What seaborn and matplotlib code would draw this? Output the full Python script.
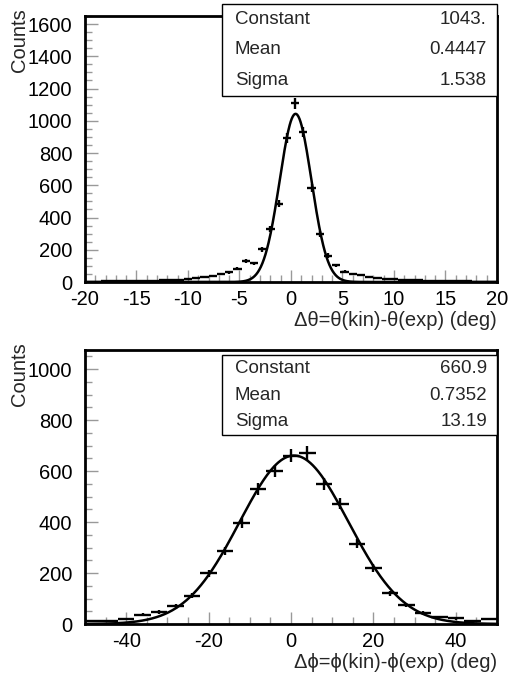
import numpy as np
import pandas as pd
import matplotlib.pyplot as plt
import seaborn as sns
from matplotlib.patches import Rectangle
from matplotlib.ticker import MultipleLocator

# theta histogram: 50 bins from -20 to 20 deg
theta_edges = np.linspace(-20, 20, 51)
theta_counts = [3, 3, 4, 4, 5, 6, 8, 8, 9, 10,
                12, 15, 19, 27, 33, 38, 50, 60, 82, 130,
                116, 203, 328, 486, 895, 1108, 932, 581, 298, 164,
                104, 64, 48, 41, 29, 25, 20, 16, 13, 12,
                10, 9, 7, 6, 5, 5, 4, 3, 3, 2]
theta_fit = {"Constant": 1043., "Mean": 0.4447, "Sigma": 1.538}
theta_fit_txt = ["1043.", "0.4447", "1.538"]

# phi histogram: 25 bins from -50 to 50 deg
phi_edges = np.linspace(-50, 50, 26)
phi_counts = [12, 13, 20, 36, 48, 69, 111, 199, 286, 397,
              531, 600, 660, 671, 550, 472, 315, 219, 120, 74,
              43, 28, 22, 10, 18]
phi_fit = {"Constant": 660.9, "Mean": 0.7352, "Sigma": 13.19}
phi_fit_txt = ["660.9", "0.7352", "13.19"]

sns.set_theme(style="ticks")
plt.rcParams['font.family'] = ['Liberation Sans', 'DejaVu Sans']
plt.rcParams['axes.unicode_minus'] = False

W, H = 510, 676
FS = 14.5
fig = plt.figure(figsize=(W / 100, H / 100), dpi=100)


def panel(rect, edges, counts, fit, fit_txt, ymax, xmajor, xminor, xlabel, box):
    ax = fig.add_axes(rect)
    centers = 0.5 * (edges[1:] + edges[:-1])
    half = 0.5 * (edges[1] - edges[0])
    counts = np.asarray(counts, dtype=float)
    ax.errorbar(centers, counts, xerr=half, yerr=np.sqrt(counts), fmt='none',
                ecolor='black', elinewidth=1.7, capsize=0)
    xs = np.linspace(edges[0], edges[-1], 800)
    df = pd.DataFrame({"x": xs,
                       "y": fit["Constant"] * np.exp(-0.5 * ((xs - fit["Mean"]) / fit["Sigma"]) ** 2)})
    sns.lineplot(data=df, x="x", y="y", ax=ax, color='black', linewidth=1.8)
    ax.set_xlim(edges[0], edges[-1])
    ax.set_ylim(0, ymax)
    ax.xaxis.set_major_locator(MultipleLocator(xmajor))
    ax.xaxis.set_minor_locator(MultipleLocator(xminor))
    ax.yaxis.set_major_locator(MultipleLocator(200))
    ax.yaxis.set_minor_locator(MultipleLocator(50))
    ax.tick_params(which='both', direction='in', top=False, right=False,
                   labelsize=FS, colors='black')
    ax.tick_params(which='major', length=9, width=1, color='#999999')
    ax.tick_params(which='minor', length=5, width=1, color='#999999')
    ax.tick_params(axis='y', pad=9)
    ax.tick_params(axis='x', pad=6)
    for s in ax.spines.values():
        s.set_linewidth(2)
        s.set_color('black')
    ax.set_xlabel(xlabel, loc='right', fontsize=FS, labelpad=1)
    ax.set_ylabel("Counts", loc='top', fontsize=FS)
    ax.yaxis.set_label_coords(-0.137, 1.03)

    # stats box
    x0, y0, x1, y1 = box
    fig.patches.append(Rectangle((x0 / W, 1 - y1 / H), (x1 - x0) / W, (y1 - y0) / H,
                                 transform=fig.transFigure, facecolor='white',
                                 edgecolor='black', linewidth=1, zorder=5))
    rows = ["Constant", "Mean", "Sigma"]
    step = (y1 - y0) / 3
    for k, (name, val) in enumerate(zip(rows, fit_txt)):
        yc = 1 - (y0 + step * (k + 0.5)) / H
        fig.text((x0 + 13) / W, yc, name, ha='left', va='center', fontsize=13.5, zorder=6)
        fig.text((x1 - 10) / W, yc, val, ha='right', va='center', fontsize=13.5, zorder=6)
    return ax


panel([85 / W, 1 - 282 / H, 412 / W, 266 / H], theta_edges, theta_counts, theta_fit,
      theta_fit_txt, 1650, 5, 1, "Δθ=θ(kin)-θ(exp) (deg)",
      (222, 4, 497, 96))
panel([85 / W, 1 - 624 / H, 412 / W, 274 / H], phi_edges, phi_counts, phi_fit,
      phi_fit_txt, 1075, 20, 5, "Δϕ=ϕ(kin)-ϕ(exp) (deg)",
      (222, 355, 497, 435))

fig.savefig("out.png", dpi=100)
